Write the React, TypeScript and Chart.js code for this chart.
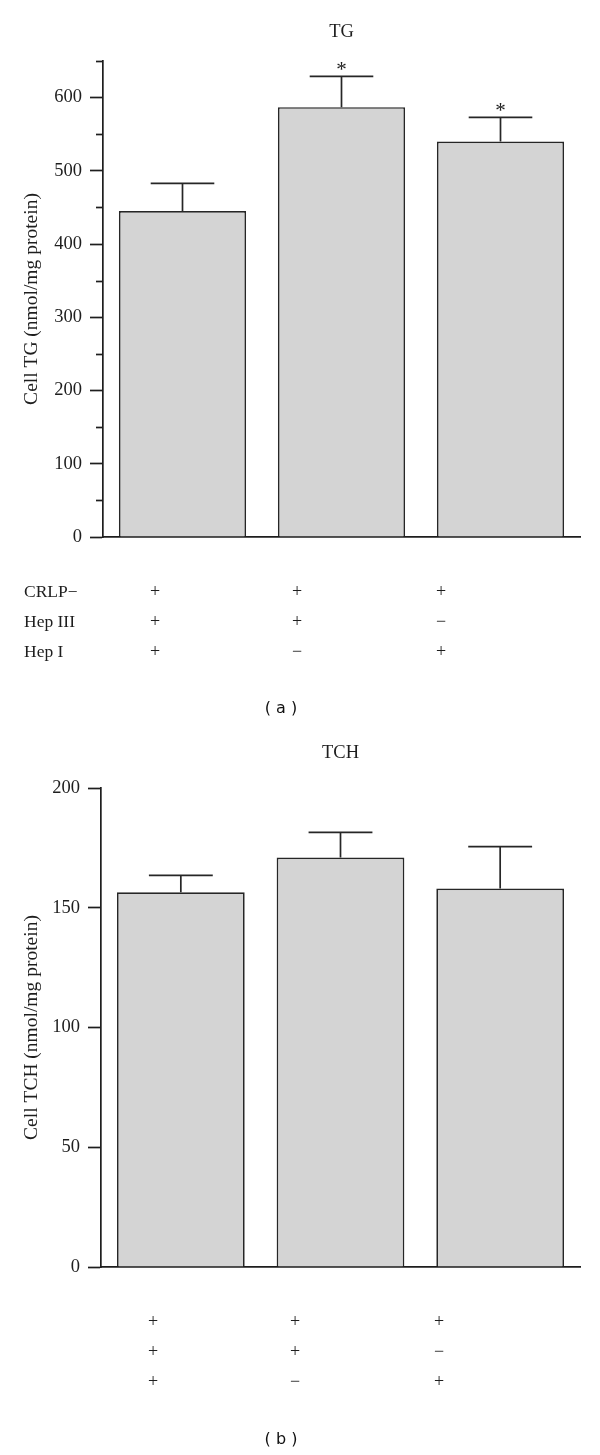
import React, { useEffect, useRef } from 'react';
import { Chart, registerables } from 'chart.js';

Chart.register(...registerables);

// ---------- data ----------
const categories = ['CRLP+ / Hep III+ / Hep I+', 'CRLP+ / Hep III+ / Hep I−', 'CRLP+ / Hep III− / Hep I+'];
const rowLabels = ['CRLP−', 'Hep III', 'Hep I'];
const crlpSigns = ['+', '+', '+'];
const hepIIISigns = ['+', '+', '−'];
const hepISigns = ['+', '−', '+'];

const tgValues = [445, 587, 540];
const tgErrors = [38, 42, 33];
const tgMarks = ['', '*', '*'];
const tgMax = 650;
const tgStep = 50;
const tgLabelStep = 100;

const tchValues = [156.5, 171, 158];
const tchErrors = [7, 10.5, 17.5];
const tchMarks = ['', '', ''];
const tchMax = 200;
const tchStep = 50;
const tchLabelStep = 50;

// ---------- styles ----------
const SERIF = '"Liberation Serif", "Times New Roman", serif';
const INK = '#1e1e1e';
const BAR_FILL = '#d4d4d4';
const BAR_EDGE = '#262626';
const COL_OFFSETS = [52, 194, 338];

type PluginOpts = {
  errors: number[];
  marks: string[];
  labelStep: number;
  showRowLabels: boolean;
};

function makePlugin(o: PluginOpts) {
  return {
    id: 'extras',
    afterDatasetsDraw(chart: any) {
      const ctx = chart.ctx;
      const y = chart.scales.y;
      const meta = chart.getDatasetMeta(0);
      const data = chart.data.datasets[0].data as number[];
      ctx.save();
      ctx.strokeStyle = BAR_EDGE;
      ctx.lineWidth = 1.7;
      meta.data.forEach((el: any, i: number) => {
        const top = y.getPixelForValue(data[i] + o.errors[i]);
        const half = el.width / 4;
        ctx.beginPath();
        ctx.moveTo(el.x, el.y);
        ctx.lineTo(el.x, top);
        ctx.moveTo(el.x - half, top);
        ctx.lineTo(el.x + half, top);
        ctx.stroke();
        if (o.marks[i]) {
          ctx.fillStyle = INK;
          ctx.font = `21px ${SERIF}`;
          ctx.textAlign = 'center';
          ctx.textBaseline = 'alphabetic';
          ctx.fillText(o.marks[i], el.x, top - 0.5);
        }
      });
      ctx.restore();
    },
    afterDraw(chart: any) {
      const ctx = chart.ctx;
      const y = chart.scales.y;
      const area = chart.chartArea;
      ctx.save();
      // minor ticks
      ctx.strokeStyle = INK;
      ctx.lineWidth = 1.7;
      y.ticks.forEach((t: any) => {
        if (t.value % o.labelStep !== 0) {
          const py = Math.round(y.getPixelForValue(t.value)) + 0.5;
          ctx.beginPath();
          ctx.moveTo(area.left - 7, py);
          ctx.lineTo(area.left, py);
          ctx.stroke();
        }
      });
      // condition table
      ctx.fillStyle = INK;
      ctx.textBaseline = 'middle';
      const rows = [crlpSigns, hepIIISigns, hepISigns];
      rows.forEach((signs, r) => {
        const ry = area.bottom + 55 + r * 30;
        if (o.showRowLabels) {
          ctx.font = `17.5px ${SERIF}`;
          ctx.textAlign = 'left';
          ctx.fillText(rowLabels[r], 24, ry);
        }
        ctx.font = `18px ${SERIF}`;
        ctx.textAlign = 'center';
        signs.forEach((s, c) => {
          ctx.fillText(s, area.left + COL_OFFSETS[c], ry);
        });
      });
      ctx.restore();
    },
  };
}

type PanelCfg = {
  title: string;
  yTitle: string;
  values: number[];
  errors: number[];
  marks: string[];
  max: number;
  step: number;
  labelStep: number;
  axisWidth: number;
  titlePad: { top: number; bottom: number };
  bottomPad: number;
  showRowLabels: boolean;
};

function buildChart(canvas: HTMLCanvasElement, p: PanelCfg) {
  const font = { family: SERIF, size: 18.5, weight: 'normal' as const };
  const yTitleFont = { family: SERIF, size: 19.5, weight: 'normal' as const };
  return new Chart(canvas, {
    type: 'bar',
    data: {
      labels: categories,
      datasets: [
        {
          data: p.values,
          backgroundColor: BAR_FILL,
          borderColor: BAR_EDGE,
          borderWidth: 1.7,
          barPercentage: 0.8,
          categoryPercentage: 1.0,
        },
      ],
    },
    options: {
      responsive: false,
      animation: false,
      devicePixelRatio: 1,
      layout: { padding: { left: 0, right: 20, top: 0, bottom: p.bottomPad } },
      plugins: {
        legend: { display: false },
        tooltip: { enabled: false },
        title: {
          display: true,
          text: p.title,
          font,
          color: INK,
          padding: p.titlePad,
          fullSize: false,
        },
      },
      scales: {
        x: {
          type: 'category',
          grid: { display: false, drawTicks: false },
          ticks: { display: false },
          border: { display: true, color: INK, width: 1.7 },
        },
        y: {
          min: 0,
          max: p.max,
          ticks: {
            stepSize: p.step,
            font,
            color: INK,
            padding: 8,
            callback: (v: any) => (Number(v) % p.labelStep === 0 ? String(v) : ''),
          },
          grid: {
            drawOnChartArea: false,
            drawTicks: true,
            tickLength: 13,
            tickWidth: 1.7,
            tickColor: (c: any) => (c.tick && c.tick.value % p.labelStep === 0 ? INK : 'rgba(0,0,0,0)'),
          },
          border: { display: true, color: INK, width: 1.7 },
          title: {
            display: true,
            text: p.yTitle,
            font: yTitleFont,
            color: INK,
            padding: { top: 20, bottom: 0 },
          },
          afterFit: (s: any) => {
            s.width = p.axisWidth;
          },
        },
      },
    },
    plugins: [makePlugin({ errors: p.errors, marks: p.marks, labelStep: p.labelStep, showRowLabels: p.showRowLabels })],
  } as any);
}

export default function App() {
  const ref1 = useRef<HTMLCanvasElement>(null);
  const ref2 = useRef<HTMLCanvasElement>(null);

  useEffect(() => {
    const c1 = buildChart(ref1.current!, {
      title: 'TG',
      yTitle: 'Cell TG (nmol/mg protein)',
      values: tgValues,
      errors: tgErrors,
      marks: tgMarks,
      max: tgMax,
      step: tgStep,
      labelStep: tgLabelStep,
      axisWidth: 103,
      titlePad: { top: 20.9, bottom: 17.9 },
      bottomPad: 198,
      showRowLabels: true,
    });
    const c2 = buildChart(ref2.current!, {
      title: 'TCH',
      yTitle: 'Cell TCH (nmol/mg protein)',
      values: tchValues,
      errors: tchErrors,
      marks: tchMarks,
      max: tchMax,
      step: tchStep,
      labelStep: tchLabelStep,
      axisWidth: 101,
      titlePad: { top: 6.9, bottom: 23.9 },
      bottomPad: 188,
      showRowLabels: false,
    });
    return () => {
      c1.destroy();
      c2.destroy();
    };
  }, []);

  const caption: React.CSSProperties = {
    position: 'absolute',
    left: 0,
    width: 562,
    textAlign: 'center',
    font: '16px "DejaVu Sans", sans-serif',
    lineHeight: '20px',
    color: '#111',
    whiteSpace: 'pre',
  };

  return (
    <div style={{ position: 'absolute', left: 0, top: 0, width: 600, height: 1455, background: '#fff', overflow: 'hidden' }}>
      <canvas ref={ref1} width={600} height={735} style={{ position: 'absolute', left: 0, top: 0 }} />
      <div style={{ ...caption, top: 698 }}>( a )</div>
      <canvas ref={ref2} width={600} height={720} style={{ position: 'absolute', left: 0, top: 735 }} />
      <div style={{ ...caption, top: 1429 }}>( b )</div>
    </div>
  );
}
